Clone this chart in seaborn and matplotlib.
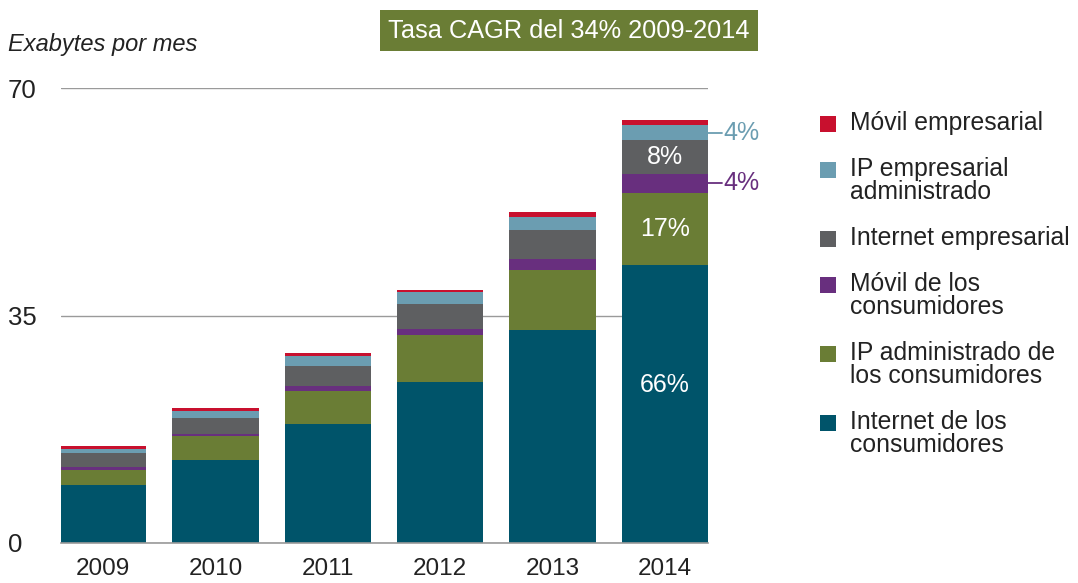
import numpy as np
import pandas as pd
import matplotlib
matplotlib.use("Agg")
import matplotlib.pyplot as plt
import seaborn as sns
from matplotlib.patches import Rectangle


YEARS = ["2009", "2010", "2011", "2012", "2013", "2014"]

# exabytes per month, bottom to top of each stack
internet_consumidores = [8.9, 12.8, 18.3, 24.8, 32.8, 42.7]
ip_admin_consumidores = [2.4, 3.6, 5.1, 7.2, 9.2, 11.2]
movil_consumidores = [0.35, 0.4, 0.7, 0.9, 1.7, 2.9]
internet_empresarial = [2.15, 2.45, 3.2, 3.8, 4.45, 5.2]
ip_empresarial = [0.65, 1.1, 1.4, 1.85, 2.05, 2.3]
movil_empresarial = [0.5, 0.4, 0.5, 0.4, 0.8, 0.7]

SERIES_NAMES = [
    "Internet de los\nconsumidores",
    "IP administrado de\nlos consumidores",
    "Móvil de los\nconsumidores",
    "Internet empresarial",
    "IP empresarial\nadministrado",
    "Móvil empresarial",
]
COLORS = ["#00546a", "#6a7d35", "#682f7e", "#5e5f61", "#6b9db1", "#c8102e"]

SHARE_LABELS = ["66%", "17%", "4%", "8%", "4%"]

FONT = ["Liberation Sans", "DejaVu Sans"]
TEXT_COLOR = "#222222"

W, H = 1078, 583


def main():
    sns.set_style("white")
    plt.rcParams["font.family"] = FONT

    series = [internet_consumidores, ip_admin_consumidores, movil_consumidores,
              internet_empresarial, ip_empresarial, movil_empresarial]
    tops = np.cumsum(np.array(series), axis=0)

    df = pd.DataFrame({"year": YEARS})
    for i in range(len(series)):
        df[f"top{i}"] = tops[i]

    fig = plt.figure(figsize=(W / 100, H / 100), dpi=100)
    ax = fig.add_axes([61 / W, 1 - 543 / H, (708 - 61) / W, (543 - 88) / H])

    # draw cumulative totals from the top layer down so each covers the one above
    for i in reversed(range(len(series))):
        sns.barplot(data=df, x="year", y=f"top{i}", color=COLORS[i],
                    saturation=1, width=0.768, linewidth=0, ax=ax)

    ax.set_xlim(-0.375, 5.384)
    ax.set_ylim(0, 70)
    ax.set_yticks([0, 35, 70])
    ax.set_xlabel("")
    ax.set_ylabel("")
    ax.set_axisbelow(True)
    ax.yaxis.grid(True, color="#9a9a9a", linewidth=1.0)
    for side in ["top", "right", "left"]:
        ax.spines[side].set_visible(False)
    ax.spines["bottom"].set_color("#9a9a9a")
    ax.spines["bottom"].set_linewidth(1.2)
    ax.tick_params(axis="y", length=0, pad=38.5, labelsize=18.5, labelcolor=TEXT_COLOR)
    for lab in ax.get_yticklabels():
        lab.set_horizontalalignment("left")
    ax.tick_params(axis="x", length=0, pad=11, labelsize=17.5, labelcolor=TEXT_COLOR)

    # share labels on the 2014 bar
    last = len(YEARS) - 1
    bottoms = np.vstack([np.zeros(len(YEARS)), tops[:-1]])
    mid = (bottoms[:, last] + tops[:, last]) / 2
    ax.text(last, bottoms[0, last] + 0.57 * series[0][last], SHARE_LABELS[0],
            color="white", fontsize=18, ha="center", va="center")
    ax.text(last, mid[1], SHARE_LABELS[1], color="white", fontsize=18,
            ha="center", va="center")
    ax.text(last, mid[3], SHARE_LABELS[3], color="white", fontsize=18,
            ha="center", va="center")
    for idx, col in [(2, COLORS[2]), (4, COLORS[4])]:
        ax.plot([5.384, 5.51], [mid[idx], mid[idx]], color=col, lw=1.3,
                clip_on=False)
        ax.text(5.525, mid[idx], SHARE_LABELS[idx], color=col, fontsize=18,
                ha="left", va="center")

    # y axis caption
    fig.text(8 / W, 1 - 45 / H, "Exabytes por mes", fontsize=17,
             style="italic", color=TEXT_COLOR, ha="left", va="center")

    # CAGR banner
    fig.patches.append(Rectangle((380 / W, 1 - 51 / H), (758 - 380) / W, 41 / H,
                                 transform=fig.transFigure, facecolor="#6a7d35",
                                 edgecolor="none"))
    fig.text(569 / W, 1 - 31 / H, "Tasa CAGR del 34% 2009-2014", color="white",
             fontsize=18.3, ha="center", va="center")

    # legend, top entry first
    y = 124
    sq = 16
    for name, col in zip(SERIES_NAMES[::-1], COLORS[::-1]):
        fig.patches.append(Rectangle((820 / W, 1 - (y + sq / 2) / H), sq / W, sq / H,
                                     transform=fig.transFigure, facecolor=col,
                                     edgecolor="none"))
        fig.text(850 / W, 1 - (y - 13) / H, name, fontsize=17.8, color=TEXT_COLOR,
                 ha="left", va="top", linespacing=0.93)
        y += 23 * name.count("\n") + 46

    fig.savefig("out.png", dpi=100)
    plt.close(fig)


if __name__ == "__main__":
    main()
